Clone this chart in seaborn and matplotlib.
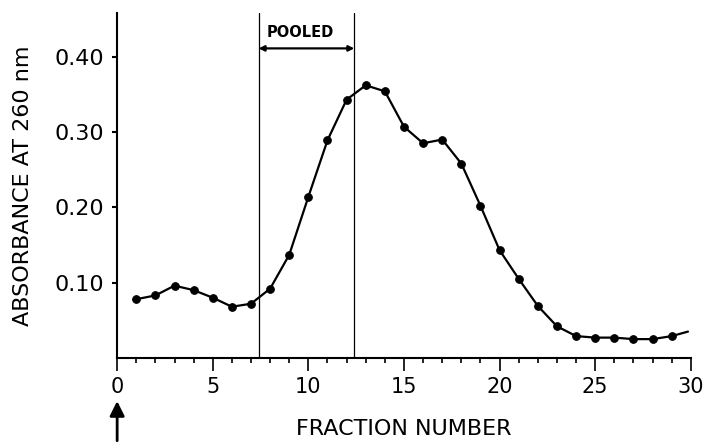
import matplotlib
matplotlib.use("Agg")
import matplotlib.pyplot as plt
from matplotlib.ticker import MultipleLocator, FixedLocator
import seaborn as sns
import pandas as pd

fractions = list(range(1, 30))
absorbance = [0.078, 0.083, 0.096, 0.090, 0.080, 0.068, 0.072, 0.092, 0.137, 0.214,
              0.289, 0.343, 0.362, 0.354, 0.307, 0.285, 0.290, 0.258, 0.202, 0.143,
              0.105, 0.069, 0.042, 0.029, 0.027, 0.027, 0.025, 0.025, 0.029]
tail_x = [29, 29.85]
tail_y = [0.029, 0.035]
pooled = [7.4, 12.4]
x_ticks = [0, 5, 10, 15, 20, 25, 30]
y_ticks = [0.10, 0.20, 0.30, 0.40]
y_tick_labels = ["0.10", "0.20", "0.30", "0.40"]

sns.set_style("ticks")
plt.rcParams["font.family"] = ["DejaVu Sans"]
plt.rcParams["text.color"] = "black"
plt.rcParams["axes.labelcolor"] = "black"
plt.rcParams["xtick.color"] = "black"
plt.rcParams["ytick.color"] = "black"

fig = plt.figure(figsize=(7.1, 4.48), dpi=100)
ax = fig.add_axes([0.165, 0.201, 0.808, 0.770])

df = pd.DataFrame({"fraction": fractions, "absorbance": absorbance})
sns.lineplot(data=df, x="fraction", y="absorbance", ax=ax, color="black",
             linewidth=1.6, marker="o", markersize=5.5, markeredgecolor="black")
sns.lineplot(x=tail_x, y=tail_y, ax=ax, color="black", linewidth=1.6)

for p in pooled:
    ax.axvline(p, color="black", linewidth=0.9)

ax.annotate("", xy=(pooled[0], 0.411), xytext=(pooled[1], 0.411),
            arrowprops=dict(arrowstyle="<|-|>", color="black", lw=1.6,
                            mutation_scale=8, shrinkA=0, shrinkB=0))
ax.text(sum(pooled) / 2 - 0.35, 0.432, "POOLED", ha="center", va="center",
        fontsize=10.5, fontweight="heavy")

ax.set_xlim(0, 30)
ax.set_ylim(0, 0.458)
ax.xaxis.set_major_locator(FixedLocator(x_ticks))
ax.xaxis.set_minor_locator(MultipleLocator(1))
ax.set_xticks(x_ticks)
ax.set_xticklabels([str(t) for t in x_ticks])
ax.set_yticks(y_ticks)
ax.set_yticklabels(y_tick_labels)

ax.tick_params(axis="x", which="major", length=9, width=1.2, labelsize=15, pad=5, direction="out")
ax.tick_params(axis="x", which="minor", length=3.6, width=1.2, direction="out")
ax.tick_params(axis="y", which="major", length=3.6, width=1.5, labelsize=16, pad=6)

for s in ["top", "right"]:
    ax.spines[s].set_visible(False)
for s in ["left", "bottom"]:
    ax.spines[s].set_linewidth(1.5)
    ax.spines[s].set_color("black")

ax.set_xlabel("FRACTION NUMBER", fontsize=16)
ax.set_ylabel("ABSORBANCE AT 260 nm", fontsize=16)
ax.xaxis.set_label_coords(0.5, -0.178)
ax.yaxis.set_label_coords(-0.146, 0.5)

ax.annotate("", xy=(0, -0.125), xytext=(0, -0.24),
            xycoords=("data", "axes fraction"), textcoords=("data", "axes fraction"),
            arrowprops=dict(arrowstyle="-|>", color="black", lw=2, mutation_scale=22,
                            shrinkA=0, shrinkB=0), annotation_clip=False)

fig.savefig("out.png", dpi=100)
